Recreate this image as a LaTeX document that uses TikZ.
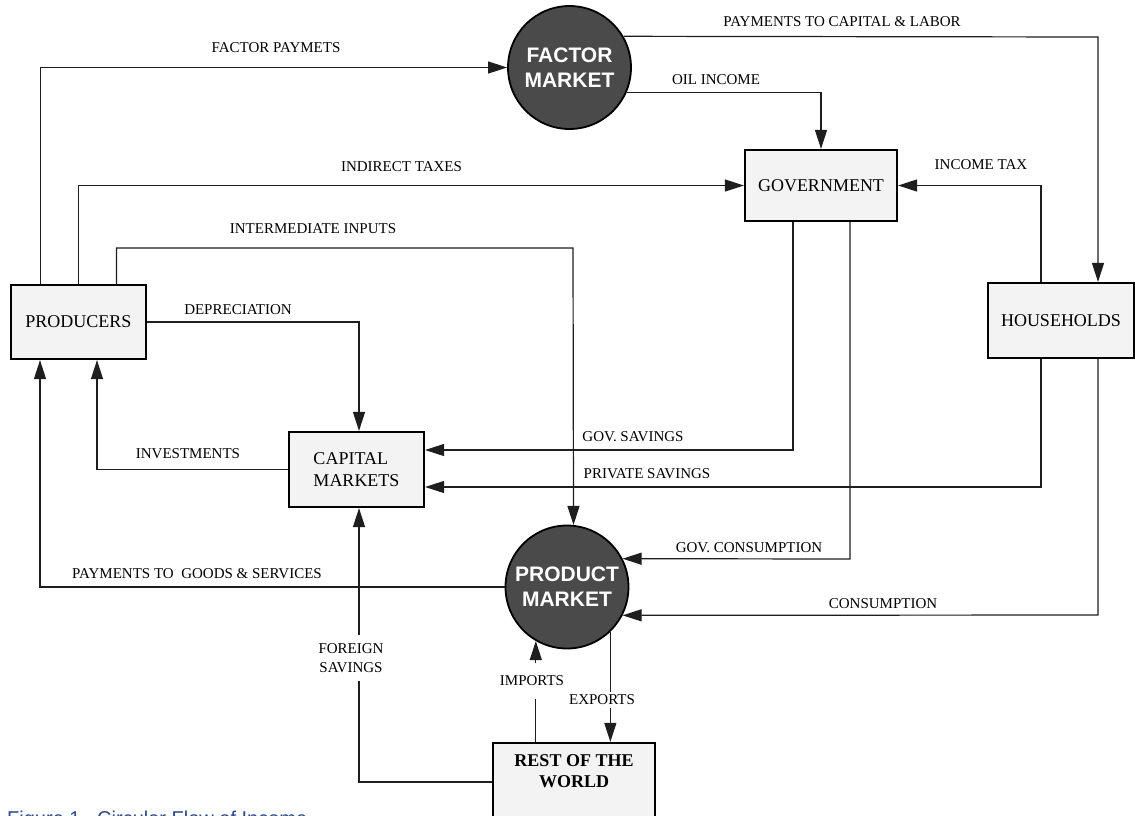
\documentclass[tikz,border=0pt]{standalone}
\usepackage{fontspec}
\setmainfont{Liberation Serif}
\newfontfamily\arialf{Liberation Sans}
\usetikzlibrary{arrows.meta,calc}
\definecolor{boxfill}{HTML}{F3F3F3}
\definecolor{mktfill}{HTML}{4A4A4A}
\definecolor{linecol}{HTML}{1E1E1E}
\definecolor{capblue}{HTML}{2B4A8C}
\begin{document}
\begin{tikzpicture}[x=1pt,y=-1pt,
  agent/.style={draw=black,line width=2.2pt,fill=boxfill,rectangle,inner sep=0pt,
    font=\fontsize{18}{22}\selectfont},
  market/.style={draw=black,line width=1.8pt,fill=mktfill,circle,inner sep=0pt,
    minimum size=123pt,text=white,align=center,font=\arialf\bfseries\fontsize{21}{25}\selectfont},
  arr/.style={draw=linecol,line width=1.2pt,-{Triangle[length=19pt,width=12pt]}},
  flowlabel/.style={font=\fontsize{15}{18}\selectfont,inner sep=1pt},
  gaplabel/.style={font=\fontsize{15}{18.5}\selectfont,fill=white,align=center,inner xsep=1pt}]
\fill[white] (0,0) rectangle (1135,815);
\useasboundingbox (0,0) rectangle (1135,815);

% nodes
\node[market] (fm) at (569.5,67.5) {FACTOR\\MARKET};
\node[market] (pm) at (567,587) {PRODUCT\\MARKET};
\node[agent,minimum width=135pt,minimum height=74pt] (producers) at (78.5,322) {PRODUCERS};
\node[agent,minimum width=152pt,minimum height=71pt] (gov) at (821,185.5) {GOVERNMENT};
\node[agent,minimum width=146pt,minimum height=75pt] (hh) at (1061,320.5) {HOUSEHOLDS};
\node[agent,minimum width=135pt,minimum height=75pt,align=left] (cm) at (356.5,469.5) {CAPITAL\\MARKETS};
\node[agent,minimum width=162pt,minimum height=78pt] (row) at (574,782) {};
\node[font=\bfseries\fontsize{18}{21}\selectfont,align=center,anchor=north,inner sep=0pt] (rowtext) at (574,754) {REST OF THE\\WORLD};

% bend coordinates
\coordinate (ii) at (573,248);
\coordinate (gs) at (793,450);
\coordinate (gc) at (850,559);
\coordinate (ps) at (1041,487);
\coordinate (cs) at (1098,615);
\coordinate (it) at (1041,185.5);
\coordinate (pcl) at (1098,37);

% connectors
\draw[arr] ([xshift=-38pt]producers.north) |- (fm.west);
\draw[arr] (producers.north) |- (gov.west);
\draw[arr] ([xshift=38pt]producers.north) |- (ii) -- (pm.84.4);
\draw[arr] (producers.east) -| ([xshift=2.5pt]cm.north);
\draw[arr] (cm.west) -| ([xshift=18.5pt]producers.south);
\draw[arr] (pm.west) -| ([xshift=-38.5pt]producers.south);
\draw[arr] (row.west) -| ([xshift=2.5pt]cm.south);
\draw[arr] (row.north -| pm.240) -- (pm.240);
\draw[arr] (pm.-46) -- (pm.-46 |- row.north);
\draw[arr] (fm.30) -- (pcl) -- (pcl |- hh.north);
\draw[arr] (fm.-24) -| (gov.north);
\draw[arr] (it |- hh.north) -- (it) -- (gov.east);
\draw[arr] (gs |- gov.south) -- (gs) -- (gs -| cm.east);
\draw[arr] (gc |- gov.south) -- (gc) -- (pm.27);
\draw[arr] (ps |- hh.south) -- (ps) -- (ps -| cm.east);
\draw[arr] (cs |- hh.south) -- (cs) -- (pm.-27);

% labels
\node[flowlabel] (lfp) at (276,48) {FACTOR PAYMETS};
\node[flowlabel] (lpcl) at (842,22) {PAYMENTS TO CAPITAL \& LABOR};
\node[flowlabel] (loil) at (716,80) {OIL INCOME};
\node[flowlabel] (lit) at (401.5,167) {INDIRECT TAXES};
\node[flowlabel] (linc) at (981,165) {INCOME TAX};
\node[flowlabel] (lii) at (313,229) {INTERMEDIATE INPUTS};
\node[flowlabel] (ldep) at (238,310) {DEPRECIATION};
\node[flowlabel] (linv) at (188,454) {INVESTMENTS};
\node[flowlabel] (lgs) at (633,437) {GOV. SAVINGS};
\node[flowlabel] (lps) at (647,474) {PRIVATE SAVINGS};
\node[flowlabel] (lgc) at (749,548) {GOV. CONSUMPTION};
\node[flowlabel] (lpgs) at (197,574) {PAYMENTS TO\ \ GOODS \& SERVICES};
\node[flowlabel] (lcons) at (883,604) {CONSUMPTION};
\node[gaplabel,inner ysep=9pt] (lfs) at (351,658) {FOREIGN\\SAVINGS};
\node[gaplabel,inner ysep=13pt] (limp) at (532,681) {IMPORTS};
\node[gaplabel,inner ysep=3pt] (lexp) at (602,700) {EXPORTS};

% caption
\node[anchor=base west,inner sep=0pt,text=capblue,font=\arialf\fontsize{20}{24}\selectfont] (caption) at (7,825) {Figure 1.\ \ Circular Flow of Income};
\end{tikzpicture}
\end{document}
